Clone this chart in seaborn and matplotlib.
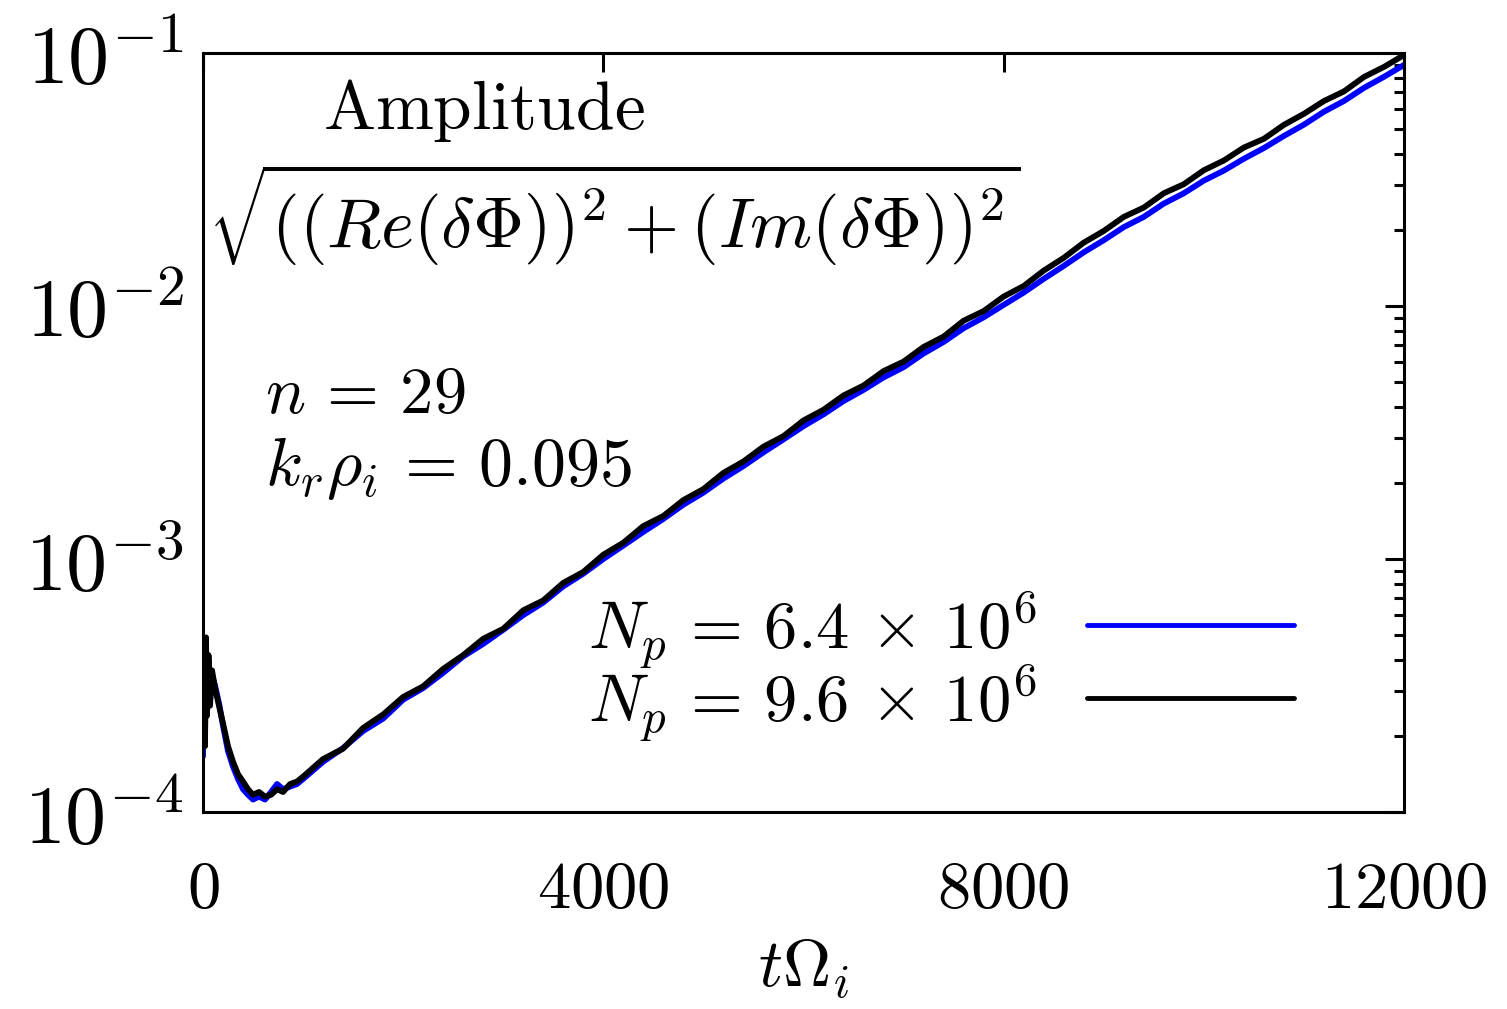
import numpy as np
import pandas as pd
import matplotlib
matplotlib.use("Agg")
import matplotlib.pyplot as plt
import seaborn as sns
from matplotlib.ticker import FixedLocator, FixedFormatter, LogLocator, NullFormatter

# ---------------- data ----------------
t_black = [0, 10, 20, 30, 40, 55, 70, 90, 120, 160, 200, 250, 300, 350, 400, 450,
           500, 560, 620, 680, 740, 800, 870, 940,
           1000, 1200, 1400, 1600, 1800, 2000, 2200, 2400, 2600, 2800, 3000, 3200,
           3400, 3600, 3800, 4000, 4200, 4400, 4600, 4800, 5000, 5200, 5400, 5600,
           5800, 6000, 6200, 6400, 6600, 6800, 7000, 7200, 7400, 7600, 7800, 8000,
           8200, 8400, 8600, 8800, 9000, 9200, 9400, 9600, 9800, 10000, 10200,
           10400, 10600, 10800, 11000, 11200, 11400, 11600, 11800, 12000]
amp_black = [2.00e-4, 4.79e-4, 1.82e-4, 4.90e-4, 2.40e-4, 4.17e-4, 2.63e-4, 3.63e-4,
             3.09e-4, 2.63e-4, 2.24e-4, 1.82e-4, 1.58e-4, 1.41e-4, 1.32e-4, 1.23e-4,
             1.17e-4, 1.20e-4, 1.15e-4, 1.17e-4, 1.23e-4, 1.20e-4, 1.29e-4, 1.32e-4,
             1.38e-4, 1.62e-4, 1.78e-4, 2.15e-4, 2.43e-4, 2.85e-4, 3.14e-4, 3.68e-4,
             4.17e-4, 4.84e-4, 5.30e-4, 6.27e-4, 6.86e-4, 8.05e-4, 8.89e-4, 1.04e-3,
             1.16e-3, 1.35e-3, 1.48e-3, 1.71e-3, 1.89e-3, 2.19e-3, 2.43e-3, 2.78e-3,
             3.06e-3, 3.53e-3, 3.89e-3, 4.43e-3, 4.85e-3, 5.53e-3, 6.03e-3, 6.89e-3,
             7.57e-3, 8.75e-3, 9.55e-3, 1.09e-2, 1.20e-2, 1.38e-2, 1.55e-2, 1.78e-2,
             1.98e-2, 2.25e-2, 2.45e-2, 2.79e-2, 3.03e-2, 3.44e-2, 3.76e-2, 4.23e-2,
             4.58e-2, 5.20e-2, 5.75e-2, 6.46e-2, 7.05e-2, 8.04e-2, 8.81e-2, 9.82e-2]

t_blue = list(t_black)
amp_blue = [1.66e-4, 4.47e-4, 2.00e-4, 4.57e-4, 2.63e-4, 3.98e-4, 2.75e-4, 3.47e-4,
            3.16e-4, 2.69e-4, 2.19e-4, 1.74e-4, 1.51e-4, 1.35e-4, 1.23e-4, 1.17e-4,
            1.12e-4, 1.15e-4, 1.12e-4, 1.20e-4, 1.29e-4, 1.23e-4, 1.26e-4, 1.29e-4,
            1.35e-4, 1.58e-4, 1.79e-4, 2.09e-4, 2.34e-4, 2.78e-4, 3.09e-4, 3.55e-4,
            4.12e-4, 4.62e-4, 5.25e-4, 6.00e-4, 6.73e-4, 7.80e-4, 8.75e-4, 1.00e-3,
            1.13e-3, 1.28e-3, 1.44e-3, 1.64e-3, 1.83e-3, 2.08e-3, 2.33e-3, 2.64e-3,
            2.97e-3, 3.35e-3, 3.73e-3, 4.21e-3, 4.66e-3, 5.22e-3, 5.73e-3, 6.49e-3,
            7.21e-3, 8.17e-3, 9.02e-3, 1.01e-2, 1.13e-2, 1.28e-2, 1.44e-2, 1.63e-2,
            1.82e-2, 2.05e-2, 2.25e-2, 2.54e-2, 2.79e-2, 3.13e-2, 3.43e-2, 3.82e-2,
            4.21e-2, 4.70e-2, 5.21e-2, 5.86e-2, 6.46e-2, 7.28e-2, 8.05e-2, 8.97e-2]

series_labels = [r"$N_p\,=\,6.4\,\times\,10^6$", r"$N_p\,=\,9.6\,\times\,10^6$"]
x_ticks = [0, 4000, 8000, 12000]
x_tick_labels = [r"$0$", r"$4000$", r"$8000$", r"$12000$"]
y_ticks = [1e-4, 1e-3, 1e-2, 1e-1]
y_tick_labels = [r"$10^{-4}$", r"$10^{-3}$", r"$10^{-2}$", r"$10^{-1}$"]

# ---------------- style ----------------
sns.set_style("white")
plt.rcParams["font.family"] = ["DejaVu Serif"]
plt.rcParams["mathtext.fontset"] = "cm"
for k in ["text.color", "axes.labelcolor", "xtick.color", "ytick.color",
          "axes.edgecolor"]:
    plt.rcParams[k] = "black"

FS = 48

fig = plt.figure(figsize=(15.07, 10.09), dpi=100)
ax = fig.add_axes([203 / 1507, 1 - 812 / 1009, (1404 - 203) / 1507, (812 - 53) / 1009])

df_b = pd.DataFrame({"t": t_blue, "amp": amp_blue})
df_k = pd.DataFrame({"t": t_black, "amp": amp_black})
sns.lineplot(data=df_b, x="t", y="amp", color="#0000ff", lw=4.2, ax=ax,
             label=series_labels[0])
sns.lineplot(data=df_k, x="t", y="amp", color="black", lw=4.2, ax=ax,
             label=series_labels[1])

ax.set_yscale("log")
ax.set_xlim(0, 12000)
ax.set_ylim(1e-4, 1e-1)

ax.xaxis.set_major_locator(FixedLocator(x_ticks))
ax.xaxis.set_major_formatter(FixedFormatter(x_tick_labels))
ax.yaxis.set_major_locator(FixedLocator(y_ticks))
ax.yaxis.set_major_formatter(FixedFormatter(y_tick_labels))
ax.yaxis.set_minor_locator(LogLocator(base=10, subs=np.arange(2, 10)))
ax.yaxis.set_minor_formatter(NullFormatter())

ax.tick_params(which="both", direction="in", top=True, right=True, colors="black")
ax.tick_params(which="major", length=14, width=2.2)
ax.tick_params(which="minor", length=7, width=2.2)
ax.tick_params(axis="x", which="major", labelsize=FS, pad=32)
ax.tick_params(axis="y", which="major", labelsize=59, pad=14)
for s in ax.spines.values():
    s.set_visible(True)
    s.set_linewidth(2.2)
    s.set_color("black")

ax.set_xlabel(r"$t\Omega_i$", fontsize=FS, labelpad=10)
ax.set_ylabel("")

ax.text(0.100, 0.900, r"$\mathrm{Amplitude}$", transform=ax.transAxes,
        fontsize=50, ha="left", va="baseline")
ax.text(0.004, 0.743, r"$\sqrt{((Re(\delta\Phi))^2+(Im(\delta\Phi))^2}$",
        transform=ax.transAxes, fontsize=51, ha="left", va="baseline")
ax.text(0.0516, 0.526, r"$n\,=\,29$", transform=ax.transAxes,
        fontsize=FS, ha="left", va="baseline")
ax.text(0.0516, 0.431, r"$k_r\rho_i\,=\,0.095$", transform=ax.transAxes,
        fontsize=49, ha="left", va="baseline")

leg = ax.legend(loc="upper left", bbox_to_anchor=(0.3206, 0.293), frameon=False,
                markerfirst=False, fontsize=FS, handlelength=3.1,
                handletextpad=0.75, labelspacing=-0.12, borderpad=0, borderaxespad=0)
for line in leg.get_lines():
    line.set_linewidth(3.5)

fig.savefig("out.png", dpi=100)
